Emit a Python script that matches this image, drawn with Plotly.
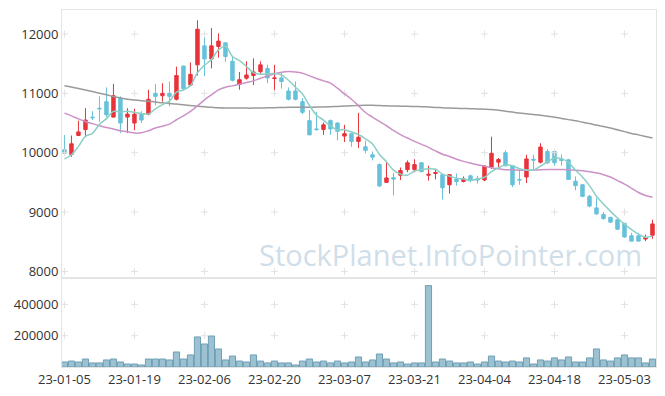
import plotly.graph_objects as go

dates = ["23-01-05","23-01-06","23-01-09","23-01-10","23-01-11","23-01-12","23-01-13","23-01-16","23-01-17","23-01-18",
         "23-01-19","23-01-20","23-01-25","23-01-26","23-01-27","23-01-30","23-01-31","23-02-01","23-02-02","23-02-03",
         "23-02-06","23-02-07","23-02-08","23-02-09","23-02-10","23-02-13","23-02-14","23-02-15","23-02-16","23-02-17",
         "23-02-20","23-02-21","23-02-22","23-02-23","23-02-24","23-02-27","23-02-28","23-03-02","23-03-03","23-03-06",
         "23-03-07","23-03-08","23-03-09","23-03-10","23-03-13","23-03-14","23-03-15","23-03-16","23-03-17","23-03-20",
         "23-03-21","23-03-22","23-03-23","23-03-24","23-03-27","23-03-28","23-03-29","23-03-30","23-03-31","23-04-03",
         "23-04-04","23-04-05","23-04-06","23-04-07","23-04-10","23-04-11","23-04-12","23-04-13","23-04-14","23-04-17",
         "23-04-18","23-04-19","23-04-20","23-04-21","23-04-24","23-04-25","23-04-26","23-04-27","23-04-28","23-05-02",
         "23-05-03","23-05-04","23-05-08","23-05-09","23-05-10"]

opens = [10050,9970,10290,10390,10600,10750,10860,10600,10920,10600,
         10500,10650,10650,11000,10960,11000,10900,11460,11140,11480,
         11800,11580,11790,11850,11540,11150,11255,11300,11365,11420,
         11250,11260,11040,11040,10860,10540,10400,10390,10540,10500,
         10280,10320,10190,10100,9965,9800,9500,9580,9620,9715,
         9715,9830,9620,9650,9630,9460,9555,9515,9610,9560,
         9540,9760,9840,10000,9780,9550,9590,9890,9840,10020,
         10020,9890,9880,9520,9460,9265,9070,8960,8910,8870,
         8810,8600,8600,8545,8610]
highs = [10300,10290,10540,10750,10700,10950,11100,11160,10950,10750,
         10740,10700,11060,11160,11170,11200,11450,11460,11520,12230,
         11950,12100,12010,11860,11620,11360,11540,11590,11540,11480,
         11480,11360,11100,11200,10920,10720,10690,10510,10560,10510,
         10470,10330,10670,10200,10020,9820,9830,9660,9750,9870,
         9890,9840,9780,9730,9640,9640,9650,9600,9630,9610,
         9790,10270,9910,10040,9790,9720,9965,9965,10160,10060,
         10050,9970,9890,9600,9470,9290,9240,9000,8920,8880,
         8810,8650,8650,8620,8870]
lows = [9980,9930,10280,10280,10550,10520,10600,10590,10330,10330,
        10380,10500,10630,10800,10860,10780,10880,11050,11120,11300,
        11290,11420,11600,11530,11200,11060,11230,11140,11330,11170,
        11030,11080,10880,10880,10650,10300,10370,10300,10300,10210,
        10180,10100,10080,9990,9870,9420,9490,9280,9540,9670,
        9670,9670,9530,9550,9210,9310,9445,9500,9500,9480,
        9520,9725,9745,9770,9420,9460,9490,9710,9820,9810,
        9780,9780,9540,9365,9250,9080,8950,8870,8820,8700,
        8570,8510,8510,8510,8550]
closes = [9990,10150,10350,10550,10590,10740,10640,10960,10500,10650,
          10650,10550,10900,10950,11000,10950,11300,11080,11320,12080,
          11580,11800,11880,11620,11220,11230,11310,11360,11480,11260,
          11260,11200,10900,10900,10680,10300,10390,10470,10400,10360,
          10320,10190,10260,10040,9925,9440,9575,9555,9700,9830,
          9800,9680,9635,9665,9410,9630,9515,9560,9540,9540,
          9775,9990,9885,9780,9460,9540,9895,9875,10095,9830,
          9830,9870,9550,9445,9265,9100,8970,8890,8830,8710,
          8580,8510,8510,8570,8800]
volumes = [32000,38000,32000,51000,26000,26000,45000,51000,32000,19000,
           19000,13000,51000,51000,51000,45000,96000,51000,77000,192000,
           147000,198000,115000,45000,70000,38000,32000,77000,38000,26000,
           38000,26000,26000,13000,38000,51000,32000,38000,26000,38000,
           26000,32000,64000,32000,45000,83000,51000,26000,32000,19000,
           26000,26000,520000,32000,51000,38000,26000,26000,32000,19000,
           32000,70000,38000,32000,38000,32000,58000,19000,45000,38000,
           58000,45000,64000,32000,32000,58000,115000,45000,38000,58000,
           77000,58000,58000,26000,51000]
# moving-average values (history before the window not shown)
ma5_head = [9895, 9966, 10106, 10275]
ma20 = [10667,10620,10570,10526,10490,10454,10425,10398,10370,10353,
        10330,10335,10370,10415,10445,10482,10555,10620,10695,10790,
        10890,10975,11059,11104,11126,11154,11182,11210,11255,11294,
        11328,11356,11367,11360,11340,11294,11250,11210,11171,11087,
        10990,10900,10790,10677,10600,10526,10454,10375,10303,10247,
        10190,10140,10090,10030,9975,9935,9890,9854,9825,9798,
        9770,9745,9728,9714,9712,9705,9703,9708,9714,9716,
        9716,9716,9712,9705,9695,9680,9658,9630,9590,9530,
        9470,9400,9330,9280,9250]
ma120 = [11126,11105,11080,11055,11030,11003,10975,10945,10920,10900,
         10888,10876,10865,10855,10840,10830,10820,10807,10795,10782,
         10772,10765,10758,10754,10752,10751,10751,10751,10753,10756,
         10759,10762,10764,10765,10766,10767,10768,10770,10775,10780,
         10786,10790,10796,10800,10800,10795,10790,10787,10784,10781,
         10779,10775,10770,10763,10757,10751,10748,10745,10741,10738,
         10734,10728,10715,10700,10684,10667,10655,10643,10630,10615,
         10598,10578,10557,10538,10513,10490,10465,10442,10415,10385,
         10355,10325,10300,10273,10247]
price_ticks = [8000, 9000, 10000, 11000, 12000]
price_labels = ["8000", "9000", "10000", "11000", "12000"]
volume_ticks = [200000, 400000]
volume_labels = ["200000", "400000"]
watermark = "StockPlanet.InfoPointer.com"

n = len(dates)
idx = list(range(n))
ma5 = ma5_head + [sum(closes[i-4:i+1]) / 5 for i in range(4, n)]
tick_idx = idx[::10]
tick_txt = [dates[i] for i in tick_idx]

UP = "#e8333b"
DOWN = "#66c1d9"
GRID = "#e2e2e2"
FRAME = "#e4e4e4"
FONT = dict(family="Open Sans", size=13, color="#333333")

fig = go.Figure()

# grid crosses
gx, gy = [], []
for x in tick_idx:
    for y in price_ticks:
        gx.append(x); gy.append(y)
fig.add_trace(go.Scatter(x=gx, y=gy, mode="markers", xaxis="x", yaxis="y",
                         marker=dict(symbol="cross-thin", size=5, line=dict(color=GRID, width=1)),
                         hoverinfo="skip", showlegend=False))
vx, vy = [], []
for x in tick_idx:
    for y in volume_ticks:
        vx.append(x); vy.append(y)
fig.add_trace(go.Scatter(x=vx, y=vy, mode="markers", xaxis="x2", yaxis="y2",
                         marker=dict(symbol="cross-thin", size=5, line=dict(color=GRID, width=1)),
                         hoverinfo="skip", showlegend=False))

fig.add_trace(go.Scatter(x=idx, y=ma120, mode="lines", line=dict(color="#9a9a9a", width=1.5, shape="spline"),
                         xaxis="x", yaxis="y", showlegend=False))
fig.add_trace(go.Scatter(x=idx, y=ma20, mode="lines", line=dict(color="#cc92c8", width=1.5, shape="spline"),
                         xaxis="x", yaxis="y", showlegend=False))
fig.add_trace(go.Scatter(x=idx, y=ma5, mode="lines", line=dict(color="#8ccfc5", width=1.5, shape="spline"),
                         xaxis="x", yaxis="y", showlegend=False))

fig.add_trace(go.Candlestick(x=idx, open=opens, high=highs, low=lows, close=closes,
                             xaxis="x", yaxis="y",
                             increasing=dict(line=dict(color=UP, width=1), fillcolor=UP),
                             decreasing=dict(line=dict(color=DOWN, width=1), fillcolor=DOWN),
                             whiskerwidth=0, showlegend=False))

fig.add_trace(go.Bar(x=idx, y=volumes, xaxis="x2", yaxis="y2",
                     marker=dict(color="#9cc1d1", line=dict(color="#6f9fb5", width=1)),
                     showlegend=False))

split = 0.2493
fig.update_layout(
    width=665, height=396,
    margin=dict(l=62, r=9, t=10, b=29, autoexpand=False),
    paper_bgcolor="white", plot_bgcolor="white",
    font=FONT,
    bargap=0.12,
    xaxis=dict(domain=[0, 1], anchor="y", range=[-0.35, 84.5], showgrid=False, zeroline=False,
               showticklabels=False, showline=True, linecolor=FRAME, mirror=True, automargin=False,
               rangeslider=dict(visible=False), tickvals=tick_idx),
    yaxis=dict(domain=[split, 1], anchor="x", range=[7889, 12404], tickvals=price_ticks,
               ticktext=price_labels, automargin=False,
               showgrid=False, zeroline=False, showline=True, linecolor=FRAME, mirror=True,
               tickfont=FONT, ticks=""),
    xaxis2=dict(domain=[0, 1], anchor="y2", matches="x", range=[-0.35, 84.5], showgrid=False,
                zeroline=False, showline=True, linecolor=FRAME, mirror=True, automargin=False,
                tickvals=tick_idx, ticktext=tick_txt, tickfont=FONT, ticks=""),
    yaxis2=dict(domain=[0, split], anchor="x2", range=[0, 568700], tickvals=volume_ticks,
                ticktext=volume_labels, automargin=False,
                showgrid=False, zeroline=False, showline=True, linecolor=FRAME, mirror=True,
                tickfont=FONT, ticks=""),
    annotations=[dict(text=watermark, xref="paper", yref="paper", x=0.979, y=0.3165,
                      xanchor="right", yanchor="middle", showarrow=False,
                      font=dict(family="Open Sans", size=29, color="#d0dee9"))],
)

fig.write_html("out.html", config={"displayModeBar": False},
               post_script="document.body.style.margin='0';")
